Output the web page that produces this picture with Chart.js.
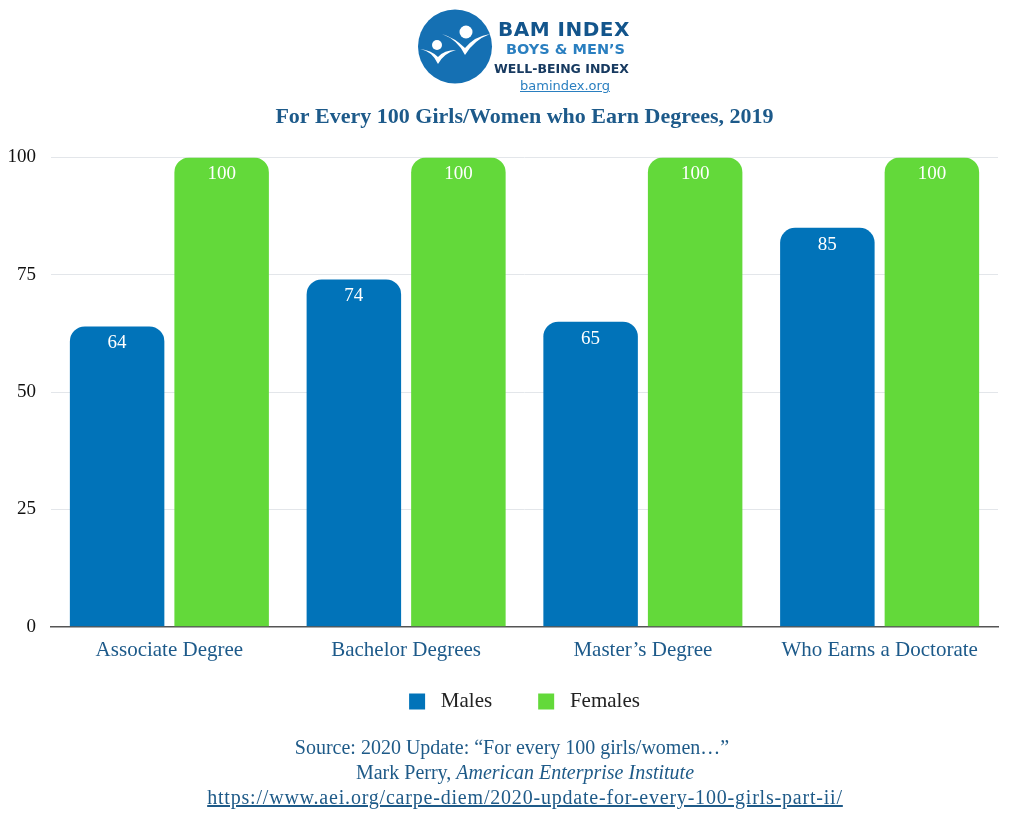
<!DOCTYPE html>
<html>
<head>
<meta charset="utf-8">
<script src="https://cdn.jsdelivr.net/npm/chart.js@4.4.0/dist/chart.umd.min.js"></script>
<style>
  html, body { margin:0; padding:0; background:#fff; }
  body { width:1024px; height:825px; position:relative; overflow:hidden; }
  #wrap { position:absolute; left:0; top:0; width:1024px; height:825px; }
  #logo { position:absolute; left:418px; top:9px; width:240px; height:90px; }
  .lt { position:absolute; font-family:"DejaVu Sans", "Liberation Sans", sans-serif; font-weight:bold; white-space:nowrap; }
  #footer { position:absolute; left:0; top:735px; width:1024px; text-align:center;
            font-family:"Liberation Serif", serif; font-size:20px; line-height:25px; color:#1e5a88; }
  #footer .sh { padding-left:26px; }
  #footer a { color:#1e5a88; text-decoration:underline; letter-spacing:0.8px; }
</style>
</head>
<body>
<div id="wrap"><canvas id="c" width="1024" height="825"></canvas></div>
<div id="logo">
  <svg width="76" height="76" viewBox="0 0 76 76" style="position:absolute;left:0;top:0">
    <circle cx="37" cy="37.5" r="37" fill="#1570b3"/>
    <circle cx="48" cy="23" r="6.5" fill="#fff"/>
    <path d="M24 25 Q40 31 47 46 Q56 31 72 25 Q57 27 47 39 Q37 29 24 25 Z" fill="#fff"/>
    <circle cx="19" cy="36" r="5" fill="#fff"/>
    <path d="M2 40 Q14 42 20 55 Q26 44 38 41 Q26 41 20 48 Q13 41 2 40 Z" fill="#fff"/>
  </svg>
  <div class="lt" style="left:80px;top:8px;font-size:20px;color:#13558c;letter-spacing:0.5px">BAM INDEX</div>
  <div class="lt" style="left:88px;top:32px;font-size:14.5px;color:#2a7fc0">BOYS &amp; MEN’S</div>
  <div class="lt" style="left:76px;top:52px;font-size:12.5px;color:#173a60">WELL-BEING INDEX</div>
  <div class="lt" style="left:102px;top:69px;font-size:13px;font-weight:normal;color:#2a7fc0;text-decoration:underline">bamindex.org</div>
</div>
<div id="footer">
  <div>Source: 2020 Update: “For every 100 girls/women…”</div>
  <div class="sh">Mark Perry, <i>American Enterprise Institute</i></div>
  <div class="sh"><a href="#">https://www.aei.org/carpe-diem/2020-update-for-every-100-girls-part-ii/</a></div>
</div>
<script>
const categories = ["Associate Degree", "Bachelor Degrees", "Master’s Degree", "Who Earns a Doctorate"];
const males = [64, 74, 65, 85];
const females = [100, 100, 100, 100];
const yTicks = [0, 25, 50, 75, 100];
const chartTitle = "For Every 100 Girls/Women who Earn Degrees, 2019";

const SERIF = '"Liberation Serif", serif';

const valueLabels = {
  id: 'valueLabels',
  afterDatasetsDraw(chart) {
    const ctx = chart.ctx;
    ctx.save();
    ctx.font = '19px ' + SERIF;
    ctx.fillStyle = '#ffffff';
    ctx.textAlign = 'center';
    ctx.textBaseline = 'middle';
    chart.data.datasets.forEach((ds, i) => {
      chart.getDatasetMeta(i).data.forEach((el, j) => {
        ctx.fillText(String(ds.data[j]), el.x, el.y + 17);
      });
    });
    ctx.restore();
  }
};

new Chart(document.getElementById('c'), {
  type: 'bar',
  data: {
    labels: categories,
    datasets: [
      { label: 'Males', data: males, backgroundColor: '#0173b9', borderRadius: {topLeft:15, topRight:15}, borderSkipped: 'bottom' },
      { label: 'Females', data: females, backgroundColor: '#63d93a', borderRadius: {topLeft:15, topRight:15}, borderSkipped: 'bottom' }
    ]
  },
  options: {
    responsive: false,
    animation: false,
    devicePixelRatio: 1,
    categoryPercentage: 0.883,
    barPercentage: 0.904,
    layout: { padding: { top: 104, bottom: 103, left: 0, right: 26 } },
    plugins: {
      title: {
        display: true, text: chartTitle, color: '#1d5a8a',
        fullSize: false,
        font: { family: SERIF, size: 22, weight: 'bold' },
        padding: { top: 0, bottom: 27 }
      },
      legend: {
        position: 'bottom',
        fullSize: false,
        labels: {
          color: '#222', boxWidth: 16, boxHeight: 16, padding: 25,
          font: { family: SERIF, size: 21 },
          generateLabels(chart) {
            const items = Chart.defaults.plugins.legend.labels.generateLabels(chart);
            items.forEach((it, i) => {
              it.text = ' ' + it.text + (i < items.length - 1 ? '    ' : '');
            });
            return items;
          }
        }
      },
      tooltip: { enabled: false }
    },
    scales: {
      x: {
        grid: { display: false },
        border: { display: true, color: '#555', width: 1.5 },
        ticks: { color: '#1d5a8a', font: { family: SERIF, size: 21 }, padding: 3 }
      },
      y: {
        min: 0, max: 100,
        afterBuildTicks: (axis) => { axis.ticks = yTicks.map(v => ({ value: v })); },
        afterFit: (axis) => { axis.width = 51; },
        grid: { color: '#e3e6ea', drawTicks: false, lineWidth: 1 },
        border: { display: false },
        ticks: { color: '#111', font: { family: SERIF, size: 19 }, padding: 15 }
      }
    }
  },
  plugins: [valueLabels]
});
</script>
</body>
</html>
